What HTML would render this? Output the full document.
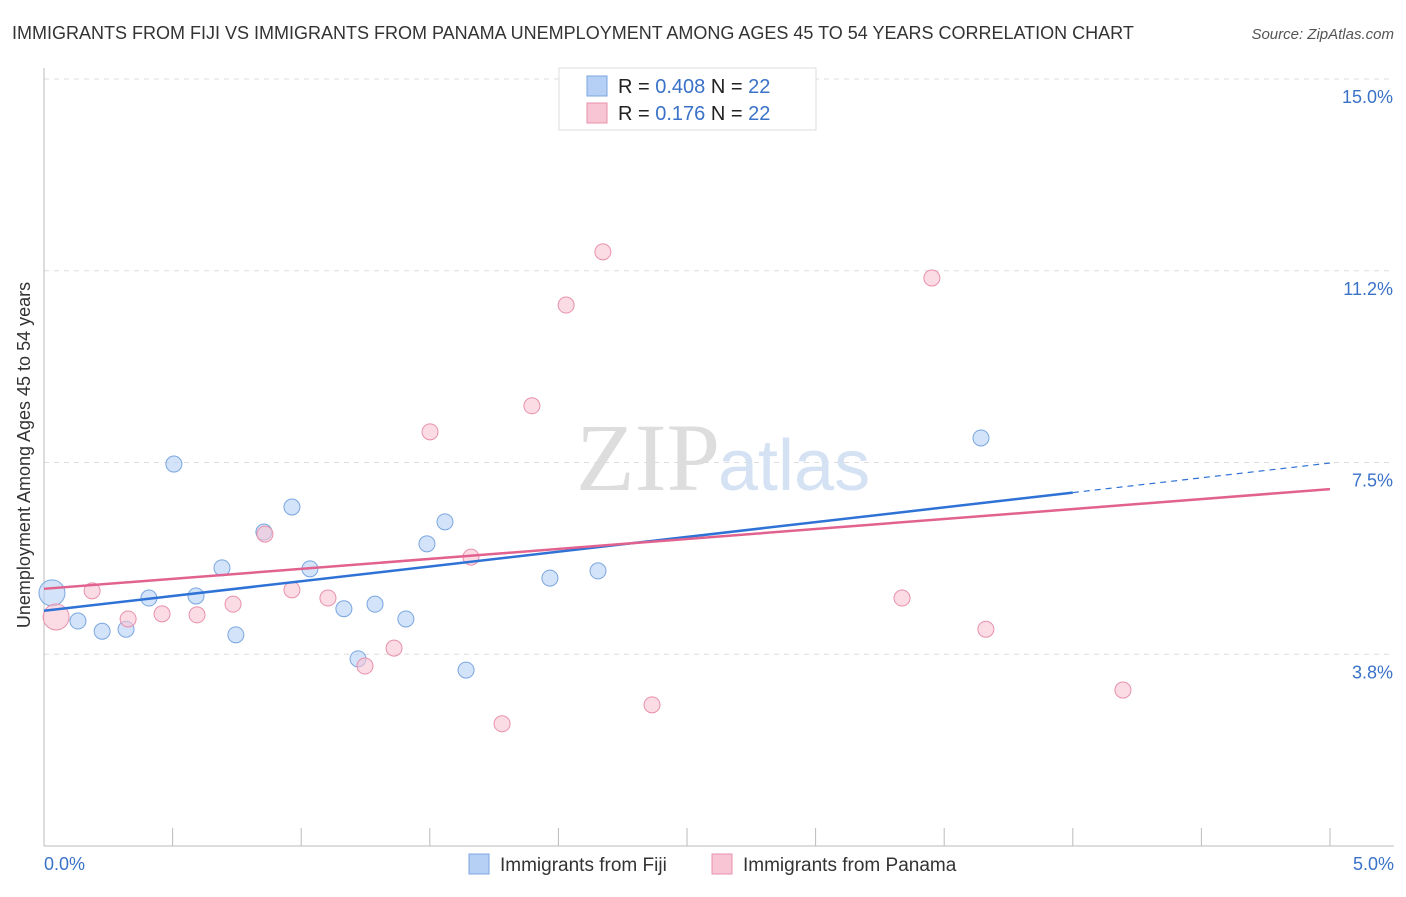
<!DOCTYPE html>
<html><head><meta charset="utf-8"><style>
body{margin:0;background:#fff;font-family:"Liberation Sans",sans-serif;}
</style></head><body>
<svg id="c" width="1406" height="892" xmlns="http://www.w3.org/2000/svg">
<text x="12" y="39" font-size="18" fill="#333">IMMIGRANTS FROM FIJI VS IMMIGRANTS FROM PANAMA UNEMPLOYMENT AMONG AGES 45 TO 54 YEARS CORRELATION CHART</text>
<text x="1394" y="39" font-size="15" fill="#555" font-style="italic" text-anchor="end">Source: ZipAtlas.com</text>
<g id="grid"></g>
<text x="720" y="490" font-size="96" fill="#ddd" font-family="Liberation Serif,serif" text-anchor="end">ZIP</text>
<text x="718" y="490" font-size="72" fill="#d5e2f4">atlas</text>
<text x="30" y="455" font-size="18" fill="#333" text-anchor="middle" transform="rotate(-90 30 455)">Unemployment Among Ages 45 to 54 years</text>
<g id="marks"></g>
<g>
<rect x="559" y="68" width="257" height="62" fill="#fff" stroke="#ddd"/>
<rect x="587" y="76" width="20" height="20" fill="#b6d0f5" stroke="#7aa6e0"/>
<rect x="587" y="103" width="20" height="20" fill="#f8c5d4" stroke="#e890ab"/>
<text x="618" y="93" font-size="20" fill="#222">R = <tspan fill="#3a72c8">0.408</tspan>   N = <tspan fill="#3a72c8">22</tspan></text>
<text x="618" y="120" font-size="20" fill="#222">R =   <tspan fill="#3a72c8">0.176</tspan>   N = <tspan fill="#3a72c8">22</tspan></text>
</g>
<g>
<rect x="469" y="854" width="20" height="20" fill="#b6d0f5" stroke="#7aa6e0"/>
<text x="500" y="871" font-size="19" fill="#333">Immigrants from Fiji</text>
<rect x="712" y="854" width="20" height="20" fill="#f8c5d4" stroke="#e890ab"/>
<text x="743" y="871" font-size="19" fill="#333">Immigrants from Panama</text>
</g>
</svg>
<script>
const yTicks=[15,11.25,7.5,3.75];
const yTickLabels=["15.0%","11.2%","7.5%","3.8%"];
const fijiX=[0.031,0.132,0.226,0.319,0.408,0.505,0.591,0.692,0.746,0.855,0.964,1.034,1.166,1.221,1.287,1.407,1.489,1.559,1.641,1.967,2.154,3.643];
const fijiY=[4.95,4.40,4.20,4.24,4.85,7.47,4.89,5.44,4.13,6.14,6.63,5.42,4.64,3.66,4.73,4.44,5.91,6.34,3.44,5.24,5.38,7.98];
const panX=[0.047,0.187,0.327,0.459,0.595,0.735,0.859,0.964,1.104,1.248,1.361,1.501,1.660,1.897,2.030,2.173,2.364,1.781,3.336,3.452,3.662,4.195];
const panY=[4.48,4.99,4.44,4.54,4.52,4.73,6.10,5.01,4.85,3.52,3.87,8.10,5.65,8.61,10.58,11.62,2.76,2.39,4.85,11.11,4.24,3.05];
const fijiTrend=[4.60,7.49];
const panTrend=[5.03,6.98];
const NS="http://www.w3.org/2000/svg";
const X=v=>44+v/5*1286, Y=v=>846-v*51.13;
function mk(t,a,p){const e=document.createElementNS(NS,t);for(const k in a)e.setAttribute(k,a[k]);p.appendChild(e);return e;}
const g=document.getElementById('grid'),m=document.getElementById('marks');
yTicks.forEach((t,i)=>{const l=mk('line',{x1:44,x2:1394,y1:Y(t),y2:Y(t),stroke:'#ddd','stroke-dasharray':'5,5'},g);

const tx=mk('text',{x:1393,y:Y(t)+24,'font-size':18,fill:'#3a72c8','text-anchor':'end'},g);tx.textContent=yTickLabels[i];
});
const ax=mk('line',{x1:44,x2:1394,y1:846,y2:846,stroke:'#bbb'},g);
const ay=mk('line',{x1:44,x2:44,y1:68,y2:846,stroke:'#bbb'},g);
for(let i=0;i<=10;i++){const t=mk('line',{x1:X(i*0.5),x2:X(i*0.5),y1:828,y2:846,stroke:'#bbb'},g);}
[["0.0%",44,'start'],["5.0%",1394,'end']].forEach(a=>{const t=mk('text',{x:a[1],y:870,'font-size':18,fill:'#3a72c8','text-anchor':a[2]},g);t.textContent=a[0];});
function pts(xs,ys,f,s,name){xs.forEach((x,i)=>{const c=mk('circle',{cx:X(x),cy:Y(ys[i]),r:i==0?13:8,fill:f,'fill-opacity':0.6,stroke:s,'stroke-width':1},m);
});}
pts(fijiX,fijiY,'#b6d0f5','#7aa6e0','fiji-point');
pts(panX,panY,'#f8c5d4','#e890ab','panama-point');
const fy=v=>fijiTrend[0]+(fijiTrend[1]-fijiTrend[0])*v/5;
let l=mk('line',{x1:X(0),y1:Y(fy(0)),x2:X(4),y2:Y(fy(4)),stroke:'#2f72d6','stroke-width':2.5},m);
l=mk('line',{x1:X(4),y1:Y(fy(4)),x2:X(5),y2:Y(fy(5)),stroke:'#2f72d6','stroke-width':1.2,'stroke-dasharray':'6,5'},m);
l=mk('line',{x1:X(0),y1:Y(panTrend[0]),x2:X(5),y2:Y(panTrend[1]),stroke:'#e2628f','stroke-width':2.5},m);
</script>
</body></html>
